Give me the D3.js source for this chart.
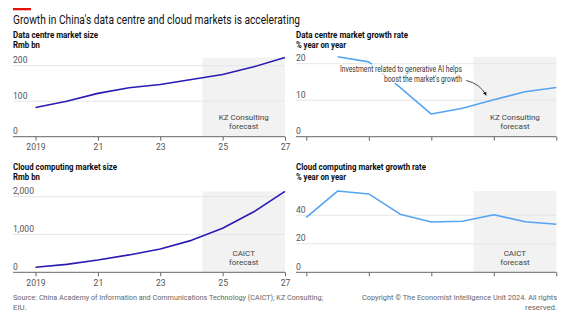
<!DOCTYPE html>
<html>
<head>
<meta charset="utf-8">
<script src="https://cdn.jsdelivr.net/npm/d3@7"></script>
<style>
  html, body { margin: 0; padding: 0; background: #fff; }
  svg { display: block; font-family: Roboto, "Noto Sans", sans-serif; }
</style>
</head>
<body>
<svg id="chart" width="580" height="335"></svg>
<script>
// ---- data ----
const years = [2019, 2020, 2021, 2022, 2023, 2024, 2025, 2026, 2027];
const dcSize = [82, 100, 122, 138, 147, 161, 175, 197, 223];          // Rmb bn
const dcGrowth = [null, 21.9, 20.5, 13.5, 6.2, 7.8, 10.1, 12.3, 13.5]; // % y/y
const cloudSize = [133, 209, 325, 460, 617, 845, 1165, 1600, 2140];    // Rmb bn
const cloudGrowth = [38.5, 57, 55, 40.8, 35.3, 35.8, 40.4, 35.5, 33.7];// % y/y
const xTickYears = [2019, 2021, 2023, 2025, 2027];
const xTickLabels = ["2019", "21", "23", "25", "27"];
const forecastStart = 2024.35;

const title = "Growth in China's data centre and cloud markets is accelerating";
const source1 = "Source: China Academy of Information and Communications Technology (CAICT); KZ Consulting;";
const source2 = "EIU.";
const copy1 = "Copyright \u00A9 The Economist Intelligence Unit 2024. All rights";
const copy2 = "reserved.";

const DARK = "#2a1bb3", LIGHT = "#55a4f2";
const svg = d3.select("#chart");

// text helper; optional fixed width keeps the narrow house style
function label(sel, t, x, y, opts) {
  const el = sel.append("text").attr("x", x).attr("y", y).text(t)
    .attr("font-size", opts.size).attr("fill", opts.fill || "#333");
  if (opts.weight) el.attr("font-weight", opts.weight);
  if (opts.anchor) el.attr("text-anchor", opts.anchor);
  if (opts.width) el.attr("textLength", opts.width).attr("lengthAdjust", "spacingAndGlyphs");
  if (opts.halo) el.attr("stroke", "#fff").attr("stroke-width", 3).attr("paint-order", "stroke");
  return el;
}

// header
svg.append("rect").attr("x", 13).attr("y", 8).attr("width", 18).attr("height", 2.3).attr("fill", "#e3120b");
label(svg, title, 13, 23.5, { size: 13, fill: "#121212", width: 287 });

const panels = [
  { title: "Data centre market size", tw: 85, unit: "Rmb bn", uw: 27, values: dcSize, color: DARK,
    left: 13, x0: 35.5, x1: 285, base: 136.7, ticks: [0, 100, 200], tickTop: 65.7,
    showX: true, forecast: ["KZ Consulting", "forecast"], tY: 37.5 },
  { title: "Data centre market growth rate", tw: 112, unit: "% year on year", uw: 50, values: dcGrowth, color: LIGHT,
    left: 296, x0: 306.3, x1: 556.3, base: 136.7, ticks: [0, 10, 20], tickTop: 63.7,
    showX: false, forecast: ["KZ Consulting", "forecast"], tY: 38 },
  { title: "Cloud computing market size", tw: 104, unit: "Rmb bn", uw: 27, values: cloudSize, color: DARK,
    left: 13, x0: 35.5, x1: 285, base: 272.3, ticks: [0, 1000, 2000], tickTop: 196.7,
    showX: true, forecast: ["CAICT", "forecast"], tY: 170 },
  { title: "Cloud computing market growth rate", tw: 130, unit: "% year on year", uw: 50, values: cloudGrowth, color: LIGHT,
    left: 296, x0: 306.3, x1: 556.3, base: 272.3, ticks: [0, 20, 40], tickTop: 215.3,
    showX: false, forecast: ["CAICT", "forecast"], tY: 170 }
];

const fmt = d3.format(",");

panels.forEach((p, i) => {
  const g = svg.append("g");
  const x = d3.scaleLinear().domain([2019, 2027]).range([p.x0, p.x1]);
  const tmax = p.ticks[p.ticks.length - 1];
  const y = d3.scaleLinear().domain([0, tmax]).range([p.base, p.tickTop]);
  const vmax = d3.max(p.values);

  // titles
  label(g, p.title, p.left, p.tY, { size: 8.8, weight: 700, fill: "#0d0d0d", width: p.tw });
  label(g, p.unit, p.left, p.tY + 10, { size: 8.8, weight: 700, fill: "#0d0d0d", width: p.uw });

  // forecast shading
  g.append("rect").attr("x", x(forecastStart)).attr("y", y(vmax))
    .attr("width", x(2027) - x(forecastStart)).attr("height", y(0) - y(vmax))
    .attr("fill", "#f2f2f2");
  const fcx = (x(forecastStart) + x(2027)) / 2;
  label(g, p.forecast[0], fcx, y(0) - 16.5, { size: 8, fill: "#444", anchor: "middle" });
  label(g, p.forecast[1], fcx, y(0) - 7.5, { size: 8, fill: "#444", anchor: "middle" });

  // gridlines + y labels
  p.ticks.forEach(t => {
    if (t !== 0) {
      g.append("line").attr("x1", p.left).attr("x2", p.x1).attr("y1", y(t)).attr("y2", y(t))
        .attr("stroke", "#e6e6e6").attr("stroke-width", 1);
    }
    label(g, fmt(t), p.left, y(t) - 2.5, { size: 8.6, fill: "#555" });
  });

  // x axis
  const axis = d3.axisBottom(x).tickValues(xTickYears).tickSize(4).tickPadding(3.5)
    .tickFormat((d, k) => p.showX ? xTickLabels[k] : "");
  const ax = g.append("g").attr("transform", `translate(0,${y(0)})`).call(axis);
  ax.select(".domain").remove();
  ax.selectAll(".tick line").attr("stroke", "#666");
  ax.selectAll(".tick text").attr("font-size", 8.6).attr("fill", "#555").attr("font-family", "Roboto, sans-serif");
  g.append("line").attr("x1", p.left).attr("x2", p.x1).attr("y1", y(0)).attr("y2", y(0))
    .attr("stroke", "#666").attr("stroke-width", 1);

  // line
  const line = d3.line().defined(d => d[1] != null).x(d => x(d[0])).y(d => y(d[1]));
  g.append("path").datum(years.map((yr, k) => [yr, p.values[k]]))
    .attr("d", line).attr("fill", "none").attr("stroke", p.color).attr("stroke-width", 1.6)
    .attr("stroke-linejoin", "round");

  // annotation on the data centre growth chart
  if (i === 1) {
    const ann = ["Investment related to generative AI helps", "boost the market's growth"];
    const annW = [122, 78];
    const ay = [17.7, 15.0];
    ann.forEach((s, k) => {
      label(g, s, x(2023.98), y(ay[k]), { size: 8.2, fill: "#333", anchor: "end", width: annW[k], halo: true });
    });
    const defs = svg.append("defs");
    defs.append("marker").attr("id", "arr").attr("viewBox", "0 0 10 10").attr("refX", 8).attr("refY", 5)
      .attr("markerWidth", 5).attr("markerHeight", 5).attr("orient", "auto")
      .append("path").attr("d", "M0,0 L10,5 L0,10 Z").attr("fill", "#222");
    const sx = x(2024.12), sy = y(15.4), ex = x(2024.75), ey = y(11.4);
    g.append("path")
      .attr("d", `M${sx},${sy} Q${(sx + ex) / 2 + 4},${(sy + ey) / 2 - 4} ${ex},${ey}`)
      .attr("fill", "none").attr("stroke", "#222").attr("stroke-width", 0.8)
      .attr("marker-end", "url(#arr)");
  }
});

// footer
label(svg, source1, 13, 300, { size: 7.8, fill: "#666", width: 310 });
label(svg, source2, 13, 310, { size: 7.8, fill: "#666" });
label(svg, copy1, 557, 300, { size: 7.8, fill: "#666", anchor: "end", width: 195 });
label(svg, copy2, 557, 310, { size: 7.8, fill: "#666", anchor: "end" });
</script>
</body>
</html>
